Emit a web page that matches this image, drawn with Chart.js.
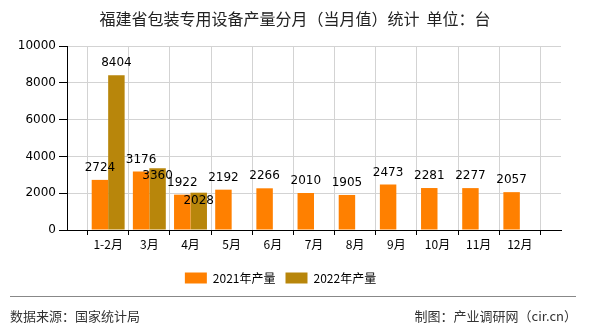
<!DOCTYPE html>
<html lang="zh">
<head>
<meta charset="UTF-8">
<title>福建省包装专用设备产量分月统计</title>
<script src="https://cdn.jsdelivr.net/npm/chart.js@4.4.1/dist/chart.umd.min.js"></script>
<style>
  html, body { margin: 0; padding: 0; background: #fff; }
  #chart { display: block; }
</style>
</head>
<body>
<canvas id="chart" width="590" height="330"></canvas>
<script>
// month labels, blank slots at both ends keep the spacing of the original axis
var months = ['', '1-2月', '3月', '4月', '5月', '6月', '7月', '8月', '9月', '10月', '11月', '12月', ''];
var output2021 = [null, 2724, 3176, 1922, 2192, 2266, 2010, 1905, 2473, 2281, 2277, 2057, null];
var output2022 = [null, 8404, 3360, 2028, null, null, null, null, null, null, null, null, null];
var yTicks = [0, 2000, 4000, 6000, 8000, 10000];

var titleText = '福建省包装专用设备产量分月（当月值）统计  单位：台';
var sourceText = '数据来源：国家统计局';
var makerText = '制图：产业调研网（cir.cn）';

var cjk = '"Noto Sans CJK SC", "DejaVu Sans", sans-serif';

// value labels above bars + title and footer
const extras = {
    id: 'extras',
    afterDatasetsDraw(chart) {
        const ctx = chart.ctx;
        ctx.save();
        ctx.font = '12px "DejaVu Sans", sans-serif';
        ctx.fillStyle = '#000';
        ctx.textAlign = 'center';
        ctx.textBaseline = 'middle';
        chart.data.datasets.forEach((ds, di) => {
            const meta = chart.getDatasetMeta(di);
            meta.data.forEach((bar, i) => {
                const v = ds.data[i];
                if (v == null) return;
                // the 2022 labels for 3月/4月 sit lower in the original
                let y = bar.y - 12;
                if (di == 1 && i > 1) y = bar.y + 8;
                ctx.fillText(v, bar.x, y);
            });
        });
        ctx.restore();
    },
    afterDraw(chart) {
        const ctx = chart.ctx;
        ctx.save();
        ctx.fillStyle = '#222';
        ctx.font = '16px ' + cjk;
        ctx.textAlign = 'center';
        ctx.textBaseline = 'middle';
        ctx.fillText(titleText, 295, 19);

        ctx.strokeStyle = '#888';
        ctx.lineWidth = 1;
        ctx.beginPath();
        ctx.moveTo(10, 296.5);
        ctx.lineTo(576, 296.5);
        ctx.stroke();

        ctx.fillStyle = '#333';
        ctx.font = '13px ' + cjk;
        ctx.textAlign = 'left';
        ctx.fillText(sourceText, 10, 316);
        ctx.textAlign = 'right';
        ctx.fillText(makerText, 577, 316);
        ctx.restore();
    }
};

const myChart = new Chart(document.getElementById('chart').getContext('2d'), {
    type: 'bar',
    data: {
        labels: months,
        datasets: [{
            label: '2021年产量',
            data: output2021,
            backgroundColor: '#FF8000',
            borderWidth: 0,
            categoryPercentage: 0.8,
            barPercentage: 1.0
        }, {
            label: '2022年产量',
            data: output2022,
            backgroundColor: '#B8860B',
            borderWidth: 0,
            categoryPercentage: 0.8,
            barPercentage: 1.0
        }]
    },
    options: {
        responsive: false,
        animation: false,
        layout: { padding: { top: 46, left: 0, right: 29, bottom: 36 } },
        plugins: {
            legend: {
                position: 'bottom',
                labels: {
                    boxWidth: 22,
                    boxHeight: 11,
                    padding: 10,
                    color: '#000',
                    font: { size: 12, family: cjk }
                }
            },
            tooltip: { enabled: false }
        },
        scales: {
            x: {
                offset: false,
                grid: { color: '#d3d3d3', tickColor: '#000', tickLength: 5, drawOnChartArea: true },
                border: { color: '#000' },
                ticks: { color: '#000', font: { size: 12, family: cjk }, maxRotation: 0, autoSkip: false, padding: 2 },
                afterFit(scale) { scale.height = 32; }
            },
            y: {
                min: 0,
                max: 10000,
                afterBuildTicks(scale) { scale.ticks = yTicks.map(v => ({ value: v })); },
                grid: { color: '#d3d3d3', tickColor: '#000', tickLength: 8 },
                border: { color: '#000' },
                ticks: {
                    color: '#000',
                    font: { size: 12, family: '"DejaVu Sans", sans-serif' },
                    padding: 3,
                    callback: v => String(v)
                },
                afterFit(scale) { scale.width = 67; }
            }
        }
    },
    plugins: [extras]
});
</script>
</body>
</html>
